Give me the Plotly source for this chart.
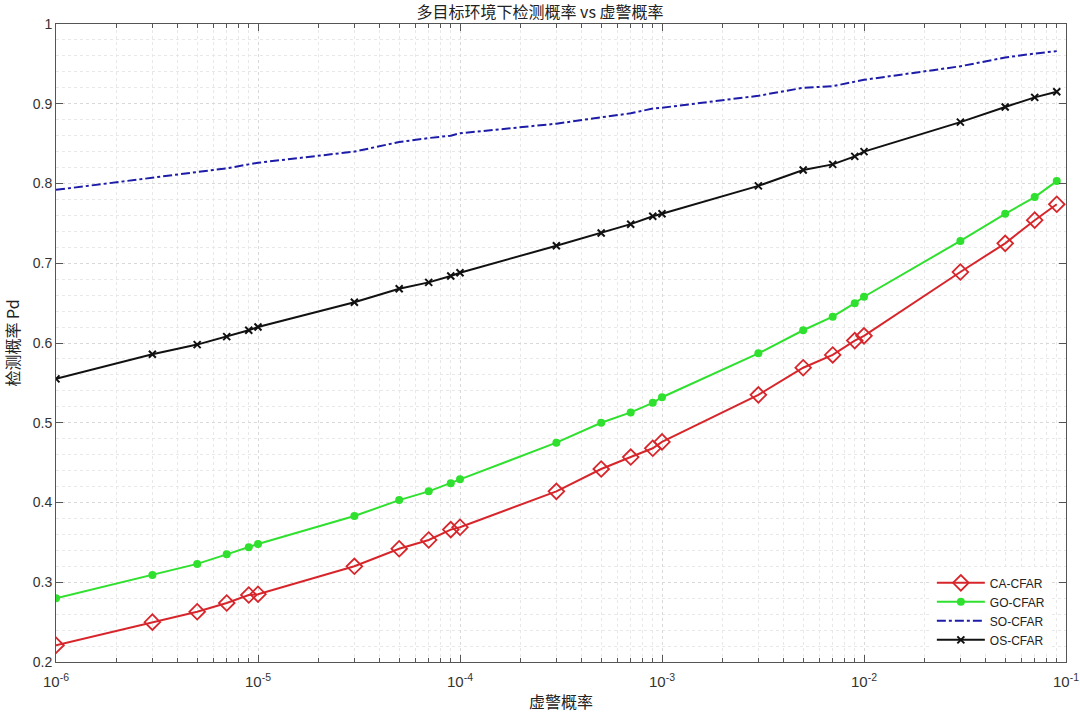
import plotly.graph_objects as go

pfa = [1e-6, 3e-6, 5e-6, 7e-6, 9e-6, 1e-5, 3e-5, 5e-5, 7e-5, 9e-5,
       1e-4, 3e-4, 5e-4, 7e-4, 9e-4, 1e-3, 3e-3, 5e-3, 7e-3, 9e-3,
       1e-2, 3e-2, 5e-2, 7e-2, 9e-2]

ca_cfar = [0.221, 0.250, 0.263, 0.274, 0.284, 0.285, 0.320, 0.342, 0.353, 0.366,
           0.369, 0.414, 0.442, 0.457, 0.468, 0.476, 0.535, 0.569, 0.585, 0.603,
           0.609, 0.689, 0.725, 0.754, 0.774]
go_cfar = [0.280, 0.309, 0.323, 0.335, 0.344, 0.348, 0.383, 0.403, 0.414, 0.424,
           0.429, 0.475, 0.500, 0.513, 0.525, 0.532, 0.587, 0.616, 0.633, 0.650,
           0.658, 0.728, 0.762, 0.783, 0.803]
so_cfar = [0.792, 0.807, 0.814, 0.819, 0.824, 0.826, 0.840, 0.852, 0.857, 0.860,
           0.863, 0.875, 0.883, 0.888, 0.894, 0.895, 0.910, 0.920, 0.922, 0.928,
           0.930, 0.947, 0.958, 0.963, 0.966]
os_cfar = [0.555, 0.586, 0.598, 0.608, 0.616, 0.620, 0.651, 0.668, 0.676, 0.684,
           0.688, 0.722, 0.738, 0.749, 0.759, 0.762, 0.797, 0.817, 0.824, 0.834,
           0.840, 0.877, 0.896, 0.908, 0.915]

x_tickvals = [1e-6, 1e-5, 1e-4, 1e-3, 1e-2, 1e-1]
x_ticktext = ["10<sup>-6</sup>", "10<sup>-5</sup>", "10<sup>-4</sup>",
              "10<sup>-3</sup>", "10<sup>-2</sup>", "10<sup>-1</sup>"]
y_tickvals = [0.2, 0.3, 0.4, 0.5, 0.6, 0.7, 0.8, 0.9, 1.0]
y_ticktext = ["0.2", "0.3", "0.4", "0.5", "0.6", "0.7", "0.8", "0.9", "1"]

title_text = "多目标环境下检测概率 vs 虚警概率"
x_title = "虚警概率"
y_title = "检测概率 Pd"

CJK = "Noto Sans CJK SC, Liberation Sans, sans-serif"
LAT = "Liberation Sans, Arial, sans-serif"

fig = go.Figure()
fig.add_trace(go.Scatter(
    x=pfa, y=ca_cfar, name="CA-CFAR", mode="lines+markers",
    line=dict(color="#d7262b", width=2),
    marker=dict(symbol="diamond-open", size=12, color="#d7262b",
                line=dict(width=1.8, color="#d7262b"))))
fig.add_trace(go.Scatter(
    x=pfa, y=go_cfar, name="GO-CFAR", mode="lines+markers",
    line=dict(color="#2fe02f", width=2),
    marker=dict(symbol="circle", size=8, color="#2fe02f")))
fig.add_trace(go.Scatter(
    x=pfa, y=so_cfar, name="SO-CFAR", mode="lines",
    line=dict(color="#1c1ca8", width=2, dash="dashdot")))
fig.add_trace(go.Scatter(
    x=pfa, y=os_cfar, name="OS-CFAR", mode="lines+markers",
    line=dict(color="#111111", width=2),
    marker=dict(symbol="x-thin-open", size=7, color="#111111",
                line=dict(width=2, color="#111111"))))

fig.update_layout(
    width=1080, height=713,
    paper_bgcolor="white", plot_bgcolor="white",
    margin=dict(l=56, r=14, t=24, b=51),
    title=dict(text=title_text, x=0.5, xanchor="center",
               yref="container", y=0.982, yanchor="middle",
               font=dict(family=CJK, size=16, color="#222222")),
    legend=dict(x=0.985, y=0.012, xanchor="right", yanchor="bottom",
                bgcolor="rgba(255,255,255,0.9)", borderwidth=0,
                font=dict(family=LAT, size=12, color="#222222"),
                tracegroupgap=0, itemwidth=48),
    showlegend=True,
)

fig.update_xaxes(
    type="log", range=[-6, -1], automargin=False,
    tickvals=x_tickvals, ticktext=x_ticktext,
    tickfont=dict(family=LAT, size=15, color="#333333"),
    ticks="inside", ticklen=7, tickcolor="#555555", ticklabelstandoff=6,
    showline=True, linecolor="#555555", linewidth=1, mirror="ticks",
    showgrid=True, gridcolor="#d9d9d9", griddash="dot", gridwidth=1,
    minor=dict(dtick="D1", ticks="inside", ticklen=4, tickcolor="#555555",
               showgrid=True, gridcolor="#e8e8e8", griddash="dot"),
    zeroline=False,
    title=dict(text=x_title, font=dict(family=CJK, size=16, color="#222222"),
               standoff=10),
)
fig.update_yaxes(
    range=[0.2, 1.0], automargin=False,
    tickvals=y_tickvals, ticktext=y_ticktext,
    tickfont=dict(family=LAT, size=14, color="#333333"),
    ticks="inside", ticklen=7, tickcolor="#555555",
    showline=True, linecolor="#555555", linewidth=1, mirror="ticks",
    showgrid=True, gridcolor="#d9d9d9", griddash="dot", gridwidth=1,
    minor=dict(dtick=0.02, ticks="", showgrid=True, gridcolor="#e8e8e8",
               griddash="dot"),
    zeroline=False,
    title=dict(text=y_title, font=dict(family=CJK, size=16, color="#222222"),
               standoff=10),
)

fig.write_html("out.html", config={"displayModeBar": False},
               post_script="document.body.style.margin='0';")
